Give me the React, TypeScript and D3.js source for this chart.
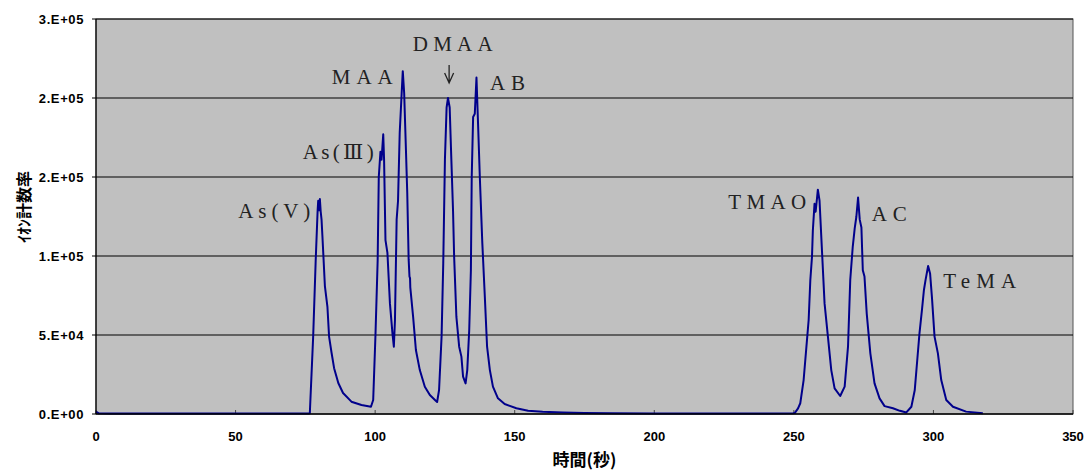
import * as d3 from 'd3';
import React from 'react';

// retention time (s) and ion count rate
const times = [
  0, 1, 5, 20, 40, 60, 76, 76.6, 77.8, 78.7, 79.4, 79.6, 79.9, 80.2, 80.5, 80.8, 81.1, 82.0, 82.9, 83.5,
  84.4, 85.3, 86.8, 88.5, 91.5, 95.1, 98.5, 99.3, 100.1, 100.9, 101.3, 101.9, 102.3, 102.9, 103.2, 103.7,
  104.4, 105.3, 106.2, 106.7, 107.1, 107.7, 108.2, 108.8, 109.5, 109.9, 110.4, 111.0, 111.5, 112.0, 112.3,
  112.5, 112.6, 113.6, 114.6, 116.0, 117.8, 119.6, 121.7, 122.2, 122.9, 123.8, 124.4, 125.0, 125.6, 126.1,
  126.7, 127.3, 127.9, 128.3, 129.1, 130.1, 130.9, 131.5, 132.4, 133.0, 133.7, 134.3, 134.6, 135.1, 135.7,
  136.3, 136.9, 137.5, 138.4, 139.3, 140.1, 141.1, 142.2, 144.0, 146.4, 150.6, 154.8, 160, 167.3, 175, 185,
  200, 220, 240, 249.7, 250.3, 251.5, 252.3, 253.5, 254.5, 255.3, 255.9, 256.5, 256.8, 257.4, 257.8, 258.6,
  259.2, 260.0, 261.0, 262.2, 263.4, 264.6, 266.6, 268.2, 269.4, 270.2, 271.1, 271.8, 272.4, 273.0, 273.6,
  274.2, 274.7, 275.3, 276.1, 277.4, 278.9, 280.7, 282.5, 285.5, 288, 290.3, 292.1, 293.3, 294.2, 295.0,
  295.9, 296.6, 297.2, 298.1, 298.8, 299.5, 300.4, 301.6, 302.8, 304.6, 307.0, 311.7, 317.7,
];
const counts = [
  1500, 400, 300, 250, 300, 250, 300, 500, 49000, 97000, 129000, 135000, 129000, 136000, 128000, 123000, 113000, 81000, 68000, 49000,
  38600, 29000, 19600, 13300, 7800, 5700, 4600, 8900, 49000, 97000, 150000, 166000, 161000, 177000, 161000, 110000,
  102000, 70000, 51000, 42600, 59500, 123000, 135000, 178000, 203000, 217000, 203000, 169000, 140000, 98000, 87000,
  86000, 80000, 61600, 40500, 27800, 17300, 12000, 8400, 7600, 15200, 49000, 95500, 161000, 194000, 200000,
  194000, 161000, 129000, 99600, 61600, 42600, 36300, 23600, 19400, 27800, 53000, 91000, 150000, 188000, 190000,
  213000, 182000, 150000, 108000, 74000, 42600, 27800, 17300, 9900, 6300, 3600, 2100, 1500, 1000, 700, 400,
  300, 250, 300, 500, 600, 3600, 6800, 21500, 42600, 59500, 84800, 99600, 116000, 133000, 128000, 142000,
  135000, 106000, 70000, 49000, 27800, 16200, 11400, 17300, 42600, 84800, 106000, 117500, 125000, 137000, 123000,
  118000, 91000, 87000, 63700, 38400, 19400, 9900, 5000, 3600, 2000, 1000, 4600, 15000, 34000, 51000,
  66000, 78500, 85000, 93700, 89000, 73000, 49000, 38400, 21500, 8900, 4600, 1500, 400,
];

const xTicks = [0, 50, 100, 150, 200, 250, 300, 350];
const yTicks = [0, 50000, 100000, 150000, 200000, 250000];

const peakNames = ['As(V)', 'As(Ⅲ)', 'MAA', 'DMAA', 'AB', 'TMAO', 'AC', 'TeMA'];
const peakLabelTimes = [50.98, 74.05, 84.44, 113.45, 141.15, 226.5, 277.9, 303.5];
const peakLabelCounts = [123900, 161400, 208700, 229900, 205100, 129700, 122100, 79600];

const arrowTime = 126.5;
const arrowCounts = [220900, 209500];

const W = 1088;
const H = 471;
const margin = { left: 96, right: 15, top: 19, bottom: 57 };

// Excel style "0.E+00"
const sci = (v: number) => {
  if (v === 0) return '0.E+00';
  const e = Math.floor(Math.log10(v));
  const m = Math.round(v / Math.pow(10, e));
  return `${m}.E+${String(e).padStart(2, '0')}`;
};

const App = () => {
  const x = d3.scaleLinear().domain([0, 350]).range([margin.left, W - margin.right]);
  const y = d3.scaleLinear().domain([0, 250000]).range([H - margin.bottom, margin.top]);

  const pts = times.map((t, i) => [t, counts[i]] as [number, number]);
  const line = d3.line<[number, number]>().x(d => x(d[0])).y(d => y(d[1]));

  const x0 = x(0), x1 = x(350), y0 = y(0), y1 = y(250000);
  const labelWidths = [72, 71, 61, 80, 35, 78, 35, 73];

  const ax = x(arrowTime);
  const ayTop = y(arrowCounts[0]);
  const ayBot = y(arrowCounts[1]);

  return (
    <svg width={W} height={H} style={{ position: 'absolute', left: 0, top: 0, background: '#fff' }}>
      <rect x={x0} y={y1} width={x1 - x0} height={y0 - y1} fill="#c0c0c0" stroke="#555" strokeWidth={1} />
      {yTicks.filter(v => v > 0).map(v => (
        <line key={v} x1={x0} x2={x1} y1={y(v)} y2={y(v)} stroke="#000" strokeWidth={1} />
      ))}
      {xTicks.map(t => (
        <line key={t} x1={x(t)} x2={x(t)} y1={y0} y2={y0 - 4} stroke="#444" strokeWidth={1} />
      ))}
      {yTicks.map(v => (
        <line key={v} x1={x0 - 4} x2={x0} y1={y(v)} y2={y(v)} stroke="#000" strokeWidth={1} />
      ))}
      <path d={line(pts) || ''} fill="none" stroke="#00008b" strokeWidth={2} strokeLinejoin="round" />
      <line x1={x0} x2={x0} y1={y1} y2={y0} stroke="#000" strokeWidth={1.2} />
      <line x1={x0} x2={x1} y1={y0} y2={y0} stroke="#000" strokeWidth={1.5} />

      {yTicks.map(v => (
        <text key={v} x={x0 - 12} y={y(v)} dy="0.35em" textAnchor="end"
          style={{ fontFamily: '"Liberation Sans", Arial, sans-serif', fontSize: 13, fontWeight: 'bold', letterSpacing: 0.6 }}>
          {sci(v)}
        </text>
      ))}
      {xTicks.map(t => (
        <text key={t} x={x(t)} y={y0 + 27} textAnchor="middle"
          style={{ fontFamily: '"Liberation Sans", Arial, sans-serif', fontSize: 13, fontWeight: 'bold' }}>
          {t}
        </text>
      ))}
      <text x={(x0 + x1) / 2} y={466} textAnchor="middle"
        style={{ fontFamily: '"Noto Sans CJK JP", sans-serif', fontSize: 17, fontWeight: 'bold' }}>
        時間(秒)
      </text>
      <text transform={`translate(30,207) rotate(-90)`} textAnchor="middle"
        style={{ fontFamily: '"Noto Sans CJK JP", sans-serif', fontSize: 16, fontWeight: 'bold' }}>
        ｲｵﾝ計数率
      </text>

      {peakNames.map((name, i) => (
        <text key={name} x={x(peakLabelTimes[i])} y={y(peakLabelCounts[i])}
          textLength={labelWidths[i]} lengthAdjust="spacing"
          style={{ fontFamily: '"Liberation Serif", "DejaVu Serif", serif', fontSize: 21, fill: '#222' }}>
          {name}
        </text>
      ))}
      <path d={`M${ax},${ayTop} L${ax},${ayBot} M${ax - 4.5},${ayBot - 10} L${ax},${ayBot} L${ax + 4.5},${ayBot - 10}`}
        fill="none" stroke="#222" strokeWidth={1.3} />
    </svg>
  );
};

export default App;
